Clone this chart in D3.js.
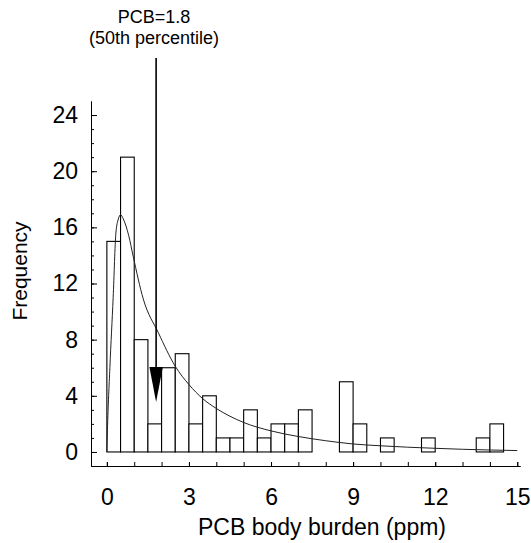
<!DOCTYPE html>
<html>
<head>
<meta charset="utf-8">
<script src="https://cdn.jsdelivr.net/npm/d3@7"></script>
<style>
body { margin: 0; background: #fff; }
svg { display: block; font-family: "Liberation Sans", Arial, sans-serif; }
</style>
</head>
<body>
<div id="chart"></div>
<script>
// histogram bins, 0.5 ppm wide
var binStarts = d3.range(0, 15, 0.5);
var binCounts = [15, 21, 8, 2, 6, 7, 2, 4, 1, 1, 3, 1, 2, 2, 3, 0, 0, 5, 2, 0, 1, 0, 0, 1, 0, 0, 0, 1, 2, 0];
var binWidth = 0.5;

// fitted curve
var curveX = [0, 0.02, 0.11, 0.23, 0.33, 0.42, 0.5, 0.6, 0.8, 0.96, 1.33, 1.88, 2.5, 3.0, 3.5, 4, 5, 6, 7, 8, 9, 10, 11, 12, 13, 14, 15];
var curveY = [0, 1.5, 6, 11, 15.6, 16.6, 16.9, 16.6, 15.4, 13.95, 10.9, 8.5, 6.1, 4.8, 3.8, 3.1, 2.1, 1.5, 1.1, 0.8, 0.57, 0.44, 0.34, 0.26, 0.19, 0.14, 0.1];

var xTicks = [0, 3, 6, 9, 12, 15];
var yTicks = [0, 4, 8, 12, 16, 20, 24];

var medianValue = 1.8;
var medianLabel = ["PCB=" + medianValue, "(50th percentile)"];

var svgWidth = 531;
var svgHeight = 543;

var svg = d3.select("#chart")
    .append("svg")
    .attr("width", svgWidth)
    .attr("height", svgHeight);

var x = d3.scaleLinear().domain([-0.58, 15.1]).range([91, 520]);
var y = d3.scaleLinear().domain([-1, 25]).range([466, 101]);

// bars
svg.append("g")
    .selectAll("rect")
    .data(binCounts)
    .enter()
    .append("rect")
    .attr("x", function(d, i) { return x(binStarts[i]); })
    .attr("y", function(d) { return y(d); })
    .attr("width", function(d, i) { return x(binStarts[i] + binWidth) - x(binStarts[i]); })
    .attr("height", function(d) { return y(0) - y(d); })
    .attr("fill", "#fff")
    .attr("stroke", "#000")
    .attr("stroke-width", 1.1);

// fitted curve
var line = d3.line()
    .x(function(d) { return x(d[0]); })
    .y(function(d) { return y(d[1]); })
    .curve(d3.curveMonotoneX);

svg.append("path")
    .datum(d3.zip(curveX, curveY))
    .attr("d", line)
    .attr("fill", "none")
    .attr("stroke", "#222")
    .attr("stroke-width", 1);

// axes: ticks point inwards
var yMinor = d3.axisLeft(y).tickValues(d3.range(0, 25)).tickSize(-3).tickSizeOuter(0).tickFormat("");
var yMajor = d3.axisLeft(y).tickValues(yTicks).tickSize(-6).tickSizeOuter(0).tickPadding(13);
var xMinor = d3.axisBottom(x).tickValues(d3.range(0, 16)).tickSize(-4).tickSizeOuter(0).tickFormat("");
var xMajor = d3.axisBottom(x).tickValues(xTicks).tickSize(-4).tickSizeOuter(0).tickPadding(23);

svg.append("g").attr("transform", "translate(91,0)").call(yMinor);
svg.append("g").attr("transform", "translate(91,0)").call(yMajor);
svg.append("g").attr("transform", "translate(0,466)").call(xMinor);
svg.append("g").attr("transform", "translate(0,466)").call(xMajor);

svg.selectAll(".tick text")
    .style("font-size", "23px")
    .attr("fill", "#000")
    .style("font-family", "'Liberation Sans', Arial, sans-serif");
svg.selectAll(".domain, .tick line").attr("stroke", "#000");

// axis titles
svg.append("text")
    .attr("x", 322)
    .attr("y", 535)
    .attr("text-anchor", "middle")
    .style("font-size", "23px")
    .text("PCB body burden (ppm)");

svg.append("text")
    .attr("transform", "translate(27,271) rotate(-90)")
    .attr("text-anchor", "middle")
    .style("font-size", "21px")
    .text("Frequency");

// median arrow
var ax = x(medianValue);
svg.append("line")
    .attr("x1", ax).attr("x2", ax)
    .attr("y1", 58).attr("y2", 372)
    .attr("stroke", "#000")
    .attr("stroke-width", 1.6);

svg.append("path")
    .attr("d", "M" + (ax - 6.7) + ",367 L" + (ax + 6.7) + ",367 L" + ax + ",402 Z")
    .attr("fill", "#000");

svg.append("g")
    .selectAll("text")
    .data(medianLabel)
    .enter()
    .append("text")
    .attr("x", 154)
    .attr("y", function(d, i) { return 23 + i * 21; })
    .attr("text-anchor", "middle")
    .style("font-size", "18px")
    .text(function(d) { return d; });
</script>
</body>
</html>
